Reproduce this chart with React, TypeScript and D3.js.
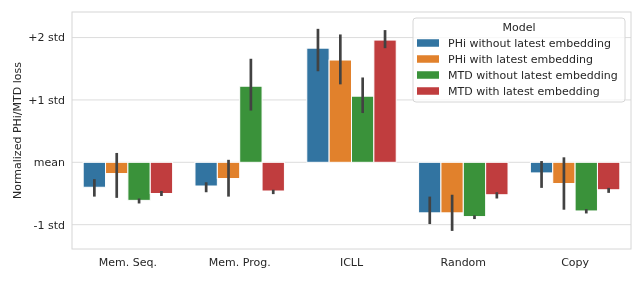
import { useEffect, useRef } from 'react';
import * as d3 from 'd3';

const tasks = ['Mem. Seq.', 'Mem. Prog.', 'ICLL', 'Random', 'Copy'];
const models = [
  'PHi without latest embedding',
  'PHi with latest embedding',
  'MTD without latest embedding',
  'MTD with latest embedding',
];
const colors = ['#3274a1', '#e1812c', '#3a923a', '#c03d3e'];

// mean values in std units, one array per model (same order as tasks)
const phiWithout = [-0.4, -0.38, 1.83, -0.81, -0.17];
const phiWith = [-0.18, -0.26, 1.64, -0.81, -0.34];
const mtdWithout = [-0.61, 1.22, 1.06, -0.87, -0.78];
const mtdWith = [-0.5, -0.46, 1.96, -0.52, -0.44];

// confidence interval [low, high]
const phiWithoutCi = [[-0.55, -0.27], [-0.48, -0.32], [1.46, 2.14], [-0.99, -0.55], [-0.41, 0.02]];
const phiWithCi = [[-0.57, 0.15], [-0.55, 0.04], [1.25, 2.05], [-1.1, -0.52], [-0.76, 0.08]];
const mtdWithoutCi = [[-0.66, -0.58], [0.83, 1.66], [0.79, 1.36], [-0.91, -0.85], [-0.82, -0.75]];
const mtdWithCi = [[-0.54, -0.46], [-0.51, -0.44], [1.83, 2.12], [-0.58, -0.48], [-0.49, -0.41]];

const yTicks = [-1, 0, 1, 2];
const yTickLabels = ['-1 std', 'mean', '+1 std', '+2 std'];

export default function App() {
  const svgRef = useRef<SVGSVGElement>(null);

  useEffect(() => {
    if (!svgRef.current) return;
    const width = 643;
    const height = 281;
    const margin = { top: 12, right: 12, bottom: 32, left: 72 };
    const font = 'DejaVu Sans, sans-serif';

    d3.select(svgRef.current).selectAll('*').remove();
    const svg = d3.select(svgRef.current).attr('width', width).attr('height', height);

    const values = [phiWithout, phiWith, mtdWithout, mtdWith];
    const cis = [phiWithoutCi, phiWithCi, mtdWithoutCi, mtdWithCi];
    const rows = tasks.flatMap((t, ti) =>
      models.map((m, mi) => ({ task: t, model: m, mi, v: values[mi][ti], ci: cis[mi][ti] }))
    );

    const x = d3.scaleBand().domain(tasks).range([margin.left, width - margin.right]).paddingInner(0.2).paddingOuter(0.1);
    const xInner = d3.scaleBand().domain(models).range([0, x.bandwidth()]);
    const y = d3.scaleLinear().domain([-1.39, 2.41]).range([height - margin.bottom, margin.top]);

    // grid
    svg
      .append('g')
      .selectAll('line')
      .data(yTicks)
      .enter()
      .append('line')
      .attr('x1', margin.left)
      .attr('x2', width - margin.right)
      .attr('y1', (d) => y(d))
      .attr('y2', (d) => y(d))
      .attr('stroke', '#dcdcdc')
      .attr('stroke-width', 1);

    // frame
    svg
      .append('rect')
      .attr('x', margin.left)
      .attr('y', margin.top)
      .attr('width', width - margin.left - margin.right)
      .attr('height', height - margin.top - margin.bottom)
      .attr('fill', 'none')
      .attr('stroke', '#d6d6d6')
      .attr('stroke-width', 1);

    // bars
    svg
      .selectAll('.bar')
      .data(rows)
      .enter()
      .append('rect')
      .attr('class', 'bar')
      .attr('x', (d) => (x(d.task) || 0) + (xInner(d.model) || 0))
      .attr('y', (d) => Math.min(y(d.v), y(0)))
      .attr('width', xInner.bandwidth())
      .attr('height', (d) => Math.abs(y(d.v) - y(0)))
      .attr('fill', (d) => colors[d.mi])
      .attr('stroke', '#ffffff')
      .attr('stroke-width', 1);

    // error bars
    svg
      .selectAll('.err')
      .data(rows)
      .enter()
      .append('line')
      .attr('class', 'err')
      .attr('x1', (d) => (x(d.task) || 0) + (xInner(d.model) || 0) + xInner.bandwidth() / 2)
      .attr('x2', (d) => (x(d.task) || 0) + (xInner(d.model) || 0) + xInner.bandwidth() / 2)
      .attr('y1', (d) => y(d.ci[0]))
      .attr('y2', (d) => y(d.ci[1]))
      .attr('stroke', '#424242')
      .attr('stroke-width', 2.7);

    // y tick labels
    svg
      .append('g')
      .selectAll('text')
      .data(yTicks)
      .enter()
      .append('text')
      .attr('x', margin.left - 7)
      .attr('y', (d) => y(d))
      .attr('dy', '0.35em')
      .attr('text-anchor', 'end')
      .style('font-family', font)
      .style('font-size', '11px')
      .style('fill', '#262626')
      .text((_, i) => yTickLabels[i]);

    // x tick labels
    svg
      .append('g')
      .selectAll('text')
      .data(tasks)
      .enter()
      .append('text')
      .attr('x', (d) => (x(d) || 0) + x.bandwidth() / 2)
      .attr('y', height - margin.bottom + 17)
      .attr('text-anchor', 'middle')
      .style('font-family', font)
      .style('font-size', '11px')
      .style('fill', '#262626')
      .text((d) => d);

    // y label
    svg
      .append('text')
      .attr('transform', `translate(21, ${(margin.top + height - margin.bottom) / 2}) rotate(-90)`)
      .attr('text-anchor', 'middle')
      .style('font-family', font)
      .style('font-size', '11px')
      .style('fill', '#262626')
      .text('Normalized PHi/MTD loss');

    // legend
    const lg = svg.append('g').attr('transform', 'translate(413, 18)');
    lg.append('rect')
      .attr('width', 212)
      .attr('height', 84)
      .attr('rx', 3)
      .attr('fill', '#ffffff')
      .attr('fill-opacity', 0.8)
      .attr('stroke', '#d6d6d6');
    lg.append('text')
      .attr('x', 106)
      .attr('y', 13)
      .attr('text-anchor', 'middle')
      .style('font-family', font)
      .style('font-size', '11px')
      .style('fill', '#262626')
      .text('Model');
    const items = lg
      .selectAll('.item')
      .data(models)
      .enter()
      .append('g')
      .attr('class', 'item')
      .attr('transform', (_, i) => `translate(4, ${25 + i * 16})`);
    items
      .append('rect')
      .attr('width', 22)
      .attr('height', 7.5)
      .attr('y', -3.75)
      .attr('fill', (_, i) => colors[i]);
    items
      .append('text')
      .attr('x', 31)
      .attr('dy', '0.35em')
      .style('font-family', font)
      .style('font-size', '11px')
      .style('fill', '#262626')
      .text((d) => d);
  }, []);

  return <svg ref={svgRef} style={{ position: 'fixed', left: 0, top: 0 }} />;
}
